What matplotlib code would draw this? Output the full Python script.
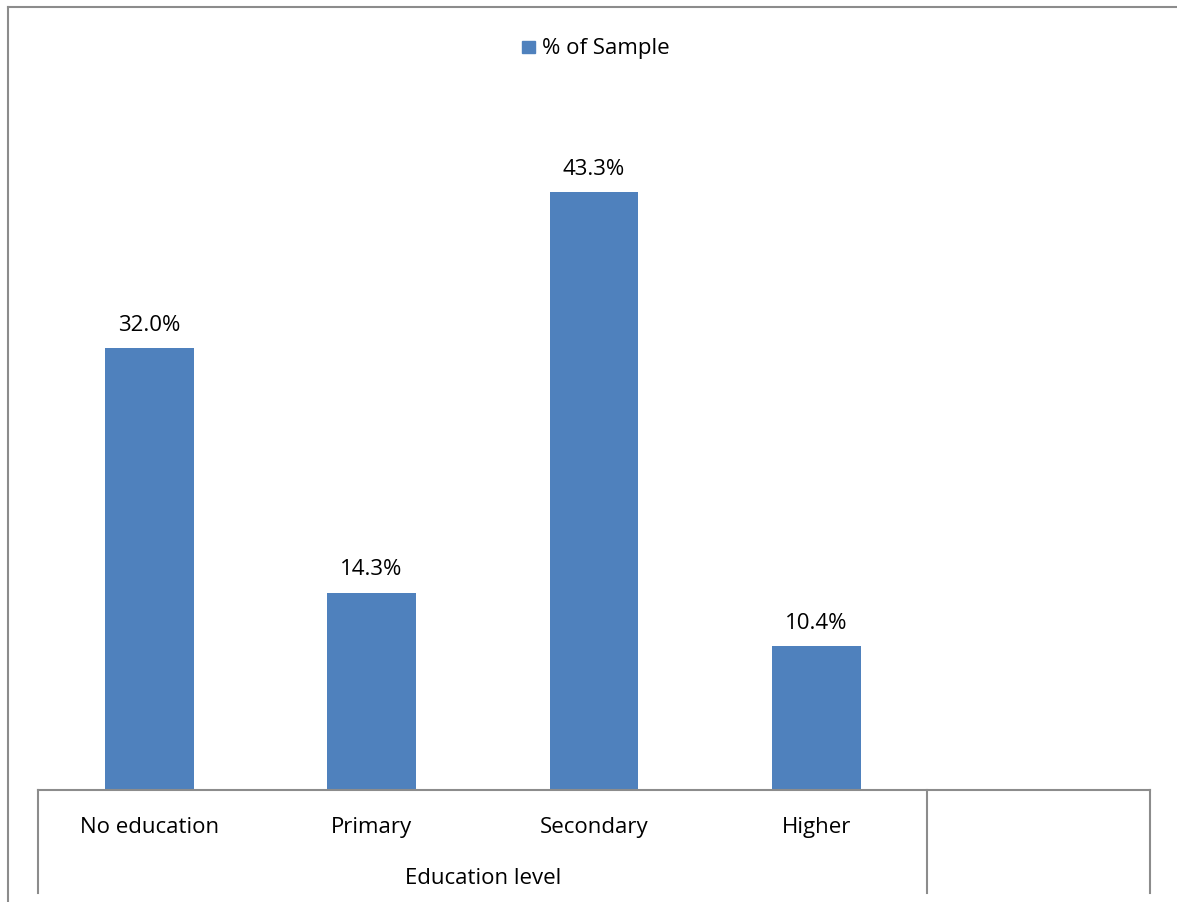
import matplotlib.pyplot as plt
from matplotlib.lines import Line2D
from matplotlib.transforms import blended_transform_factory

categories = ["No education", "Primary", "Secondary", "Higher", ""]
share = [32.0, 14.3, 43.3, 10.4, None]
group_label = "Education level"
series_name = "% of Sample"

W, H = 1177, 902
bar_color = "#4f81bd"
line_color = "#8c8c8c"
fs = 16

plt.rcParams["font.family"] = ["Open Sans", "DejaVu Sans"]


def fx(x):
    return x / W


def fy(y):
    return 1 - y / H


fig = plt.figure(figsize=(W / 100, H / 100), dpi=100)
ax = fig.add_axes([fx(38), fy(790), fx(1150) - fx(38), fy(100) - fy(790)])

xs = [i for i, v in enumerate(share) if v is not None]
vals = [v for v in share if v is not None]
bars = ax.bar(xs, vals, width=0.4, color=bar_color, zorder=2)
ax.bar_label(bars, labels=[f"{v:.1f}%" for v in vals], padding=9, fontsize=fs)

ax.set_xlim(-0.5, len(categories) - 0.5)
ax.set_ylim(0, 50)
ax.set_yticks([])
ax.set_xticks([])
for s in ["top", "right", "left", "bottom"]:
    ax.spines[s].set_visible(False)

# category names and the group label below them
below = blended_transform_factory(ax.transData, fig.transFigure)
for i, name in enumerate(categories):
    ax.text(i, fy(833), name, fontsize=fs, ha="center", va="baseline", transform=below)
ax.text(1.5, fy(884), group_label, fontsize=fs, ha="center", va="baseline", transform=below)

# frame and category dividers
lines = [
    ((8, 8), (7, H)),
    ((8, W), (7, 7)),
    ((38, 1150), (790, 790)),
    ((38, 38), (790, 893)),
    ((927, 927), (790, 893)),
    ((1150, 1150), (790, 893)),
]
for (x0, x1), (y0, y1) in lines:
    fig.add_artist(Line2D([fx(x0), fx(x1)], [fy(y0), fy(y1)],
                          transform=fig.transFigure, color=line_color, lw=1.5))

# legend
fig.add_artist(plt.Rectangle((fx(522), fy(53)), fx(13), fy(41) - fy(53),
                             transform=fig.transFigure, color=bar_color))
fig.text(fx(542), fy(54), series_name, fontsize=fs, va="baseline", ha="left")

fig.savefig("out.png", dpi=100)
